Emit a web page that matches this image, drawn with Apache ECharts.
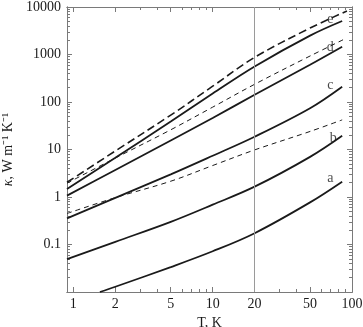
<!DOCTYPE html>
<html>
<head>
<meta charset="utf-8">
<script src="https://cdn.jsdelivr.net/npm/echarts@6/dist/echarts.min.js"></script>
<style>
  html, body { margin: 0; padding: 0; background: #fff; }
  #main { width: 363px; height: 327px; }
</style>
</head>
<body>
<div id="main"></div>
<script>
// temperatures (K) and conductivities (W m^-1 K^-1)
const tA = [1.55, 2, 5, 10, 20, 50, 85]
const kA = [0.01, 0.0129, 0.0335, 0.072, 0.173, 0.77, 2.1]
const tB = [0.9, 2, 5, 10, 20, 50, 85]
const kB = [0.049, 0.114, 0.30, 0.69, 1.65, 7.0, 19.5]
const tC = [0.9, 2, 5, 10, 20, 50, 85]
const kC = [0.356, 0.96, 3.0, 7.4, 18.6, 74, 210]
const tCd = [0.9, 2, 5, 10, 20, 50, 85]
const kCd = [0.45, 0.97, 2.15, 4.6, 9.8, 24, 42]
const tD = [0.9, 2, 5, 10, 20, 50, 85]
const kD = [1.07, 3.7, 15.5, 46, 142, 610, 1460]
const tDd = [0.9, 2, 5, 10, 20, 50, 88]
const kDd = [1.95, 6.6, 26, 78, 236, 930, 2100]
const tE = [0.9, 2, 5, 10, 20, 50, 85]
const kE = [1.47, 6.7, 39, 151, 560, 2500, 5070]
const tEd = [0.9, 2, 5, 10, 20, 50, 92]
const kEd = [2.04, 9.3, 53, 215, 870, 3600, 8240]

// curve labels
const curveNames = ['e', 'd', 'c', 'b', 'a']
const curveLabelT = [69.8, 69.8, 69.8, 73.3, 69.8]
const curveLabelK = [5590, 1440, 228, 17.5, 2.51]

// tick values
const xMajor = [1, 2, 5, 10, 20, 50, 100]
const xMinor = [0.9, 3, 4, 6, 7, 8, 9, 30, 40, 60, 70, 80, 90]
const yMajor = [0.01, 0.1, 1, 10, 100, 1000, 10000]
const yLabels = [0.1, 1, 10, 100, 1000, 10000]
const refT = 20

const lg = Math.log10
const pairs = (t, k) => t.map((v, i) => [lg(v), lg(k[i])])

let yMinor = []
for (let d = -2; d < 4; d++) {
  for (let m = 2; m <= 9; m++) yMinor.push(m * Math.pow(10, d))
}

const font = 'Liberation Serif'
const ink = '#1a1a1a'
const axisColor = '#7a7a7a'
const xMin = lg(0.9), xMax = 2, yMin = -2, yMax = 4

function fmt(v) {
  return String(Number(Math.pow(10, v).toPrecision(2)))
}

function frameAxis(kind, position, ticks, len, labels) {
  let ax = {
    type: 'value',
    position: position,
    min: kind === 'x' ? xMin : yMin,
    max: kind === 'x' ? xMax : yMax,
    splitLine: { show: false },
    axisLine: { show: true, onZero: false, lineStyle: { color: axisColor, width: 1 } },
    axisTick: { show: true, inside: true, length: len, customValues: ticks.map(lg), lineStyle: { color: axisColor } },
    axisLabel: { show: false }
  }
  if (labels) {
    ax.axisLabel = {
      show: true,
      customValues: labels.map(lg),
      formatter: fmt,
      color: ink,
      fontFamily: font,
      fontSize: 14,
      margin: kind === 'x' ? 5 : 6
    }
  }
  return ax
}

function curve(t, k, width, dash) {
  return {
    type: 'line',
    data: pairs(t, k),
    smooth: 0.35,
    showSymbol: false,
    xAxisIndex: 0,
    yAxisIndex: 0,
    lineStyle: { color: ink, width: width, type: dash || 'solid' }
  }
}

let xMain = frameAxis('x', 'bottom', xMajor, 5, xMajor)
xMain.name = 'T, K'
xMain.nameLocation = 'middle'
xMain.nameGap = 21
xMain.nameTextStyle = { color: ink, fontFamily: font, fontSize: 14 }

let yMain = frameAxis('y', 'left', yMajor, 5, yLabels)
yMain.name = '{i|κ}, W m⁻¹ K⁻¹'
yMain.nameLocation = 'middle'
yMain.nameGap = 40
yMain.nameTextStyle = {
  color: ink, fontFamily: font, fontSize: 14,
  rich: { i: { fontStyle: 'italic', fontFamily: font, fontSize: 14, color: ink } }
}

let myChart = echarts.init(document.getElementById('main'))
myChart.setOption({
  animation: false,
  backgroundColor: '#fff',
  grid: { left: 67, right: 11, top: 7, bottom: 35, containLabel: false, outerBoundsMode: 'none' },
  xAxis: [
    xMain,
    frameAxis('x', 'top', xMajor, 5),
    frameAxis('x', 'bottom', xMinor, 3),
    frameAxis('x', 'top', xMinor, 3)
  ],
  yAxis: [
    yMain,
    frameAxis('y', 'right', yMajor, 5),
    frameAxis('y', 'left', yMinor, 3),
    frameAxis('y', 'right', yMinor, 3)
  ],
  series: [
    {
      type: 'line',
      data: [],
      markLine: {
        silent: true,
        symbol: 'none',
        label: { show: false },
        lineStyle: { color: '#9a9a9a', width: 1, type: 'solid' },
        data: [{ xAxis: lg(refT) }]
      }
    },
    curve(tA, kA, 1.8),
    curve(tB, kB, 1.8),
    curve(tC, kC, 1.8),
    curve(tCd, kCd, 1, [5, 4]),
    curve(tD, kD, 1.8),
    curve(tDd, kDd, 1, [5, 4]),
    curve(tE, kE, 1.8),
    curve(tEd, kEd, 1.6, [8, 4]),
    {
      type: 'scatter',
      symbolSize: 0,
      silent: true,
      data: curveNames.map((n, i) => ({ value: [lg(curveLabelT[i]), lg(curveLabelK[i])], name: n })),
      label: {
        show: true,
        position: 'inside',
        formatter: p => p.name,
        color: ink,
        fontFamily: font,
        fontSize: 14
      }
    }
  ]
})
</script>
</body>
</html>
